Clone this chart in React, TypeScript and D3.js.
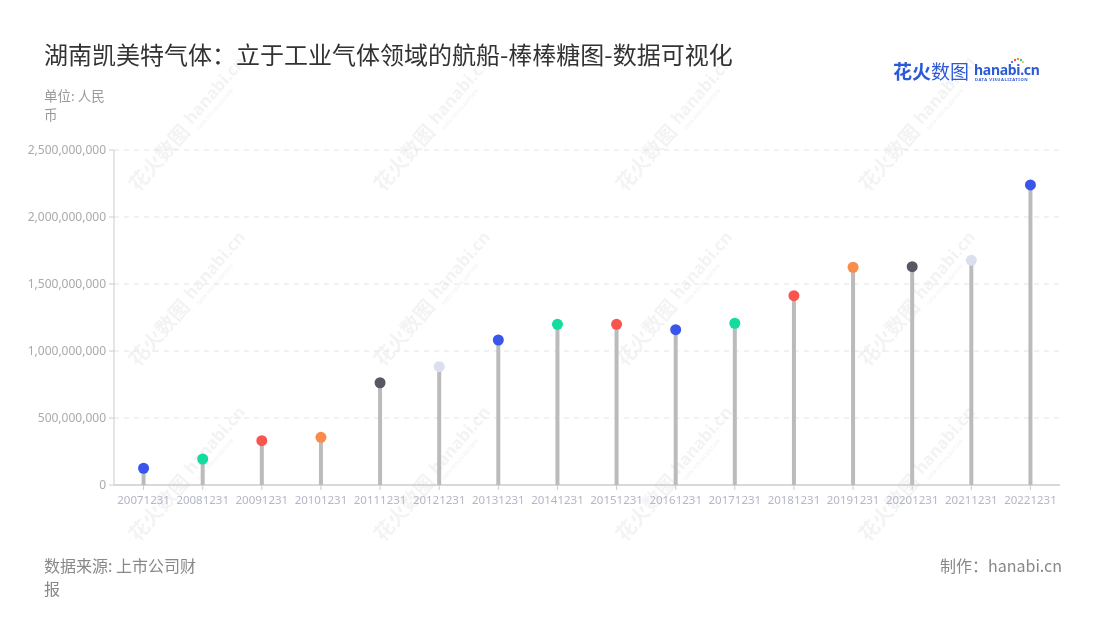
import React from "react";
import * as d3 from "d3";

const categories = ["20071231","20081231","20091231","20101231","20111231","20121231","20131231","20141231","20151231","20161231","20171231","20181231","20191231","20201231","20211231","20221231"];
const values = [125000000,194000000,331000000,356000000,763000000,883000000,1082000000,1199000000,1199000000,1159000000,1207000000,1413000000,1625000000,1629000000,1677000000,2239000000];
const dotColors = ["#3a55ea","#13dc9e","#f8554f","#fa8b4a","#585863","#dcdfee","#3a55ea","#13dc9e","#f8554f","#3a55ea","#13dc9e","#f8554f","#fa8b4a","#585863","#dcdfee","#3a55ea"];
const yTicks = [0,500000000,1000000000,1500000000,2000000000,2500000000];

const title = "湖南凯美特气体：立于工业气体领域的航船-棒棒糖图-数据可视化";
const unitLines = ["单位: 人民", "币"];
const sourceLines = ["数据来源: 上市公司财", "报"];
const credit = "制作：hanabi.cn";

const W = 1100, H = 620;
const M = { left: 114, right: 1060, top: 150, bottom: 485 };
const FONT = "'Noto Sans CJK SC','Noto Sans',sans-serif";

const wmX = [185, 430, 672, 915];
const wmY = [130, 305, 480];

export default function App() {
  const x = d3.scaleBand<string>().domain(categories).range([M.left, M.right]);
  const y = d3.scaleLinear().domain([0, 2500000000]).range([M.bottom, M.top]);
  const fmt = d3.format(",");

  return (
    <svg width={W} height={H} style={{ position: "absolute", left: 0, top: 0, background: "#fff" }} fontFamily={FONT}>
      {/* watermarks */}
      <g opacity={0.05} fill="#000">
        {wmY.map((wy) =>
          wmX.map((wx) => (
            <g key={`${wx}-${wy}`} transform={`translate(${wx},${wy}) rotate(-49)`}>
              <text x={-78} y={6} fontSize={20} fontWeight={700}>花火数图</text>
              <text x={8} y={2} fontSize={17} fontWeight={700} fontFamily="'Noto Sans',sans-serif">hanabi.cn</text>
              <text x={9} y={11} fontSize={5} fontWeight={700} fontFamily="'Noto Sans',sans-serif">DATA VISUALIZATION</text>
            </g>
          ))
        )}
      </g>

      {/* title */}
      <text x={44} y={64} fontSize={24} fill="#333">{title}</text>

      {/* logo */}
      <g>
        <text x={893} y={79} fontSize={19} fontWeight={700} fill="#2d5bd6">花火</text>
        <text x={931} y={79} fontSize={19} fill="#2d5bd6">数图</text>
        <text x={974} y={75} fontSize={14} fontWeight={700} fill="#2d5bd6" fontFamily="'Noto Sans',sans-serif" letterSpacing={-0.3}>hanabi.cn</text>
        <text x={975} y={81} fontSize={4.2} fontWeight={700} fill="#2d5bd6" fontFamily="'Noto Sans',sans-serif" letterSpacing={0.5}>DATA VISUALIZATION</text>
        <circle cx={1015} cy={60} r={1.2} fill="#f5554e" />
        <circle cx={1018} cy={59} r={1.2} fill="#fa8b4a" />
        <circle cx={1021} cy={60} r={1.2} fill="#13dc9e" />
        <circle cx={1012} cy={62} r={1.1} fill="#3a55ea" />
        <circle cx={1023} cy={62} r={1.1} fill="#f0c030" />
      </g>

      {/* unit */}
      {unitLines.map((t, i) => (
        <text key={t} x={44} y={101 + i * 19} fontSize={13.5} fill="#999">{t}</text>
      ))}

      {/* grid */}
      {yTicks.filter((t) => t > 0).map((t) => (
        <line key={t} x1={M.left} x2={M.right} y1={y(t)} y2={y(t)} stroke="#e3e3e3" strokeDasharray="5,5" />
      ))}

      {/* y axis */}
      <line x1={M.left} x2={M.left} y1={M.top} y2={M.bottom} stroke="#ccc" />
      {yTicks.map((t) => (
        <g key={t}>
          <line x1={M.left - 5} x2={M.left} y1={y(t)} y2={y(t)} stroke="#ccc" />
          <text x={M.left - 8} y={y(t)} dy="0.35em" textAnchor="end" fontSize={12} fill="#aaa" fontFamily="'Noto Sans',sans-serif">{fmt(t)}</text>
        </g>
      ))}

      {/* x axis */}
      <line x1={M.left} x2={M.right} y1={M.bottom} y2={M.bottom} stroke="#ccc" strokeWidth={1.5} />
      {categories.map((c) => {
        const cx = (x(c) ?? 0) + x.bandwidth() / 2;
        return (
          <g key={c}>
            <line x1={cx} x2={cx} y1={M.bottom} y2={M.bottom + 5} stroke="#ccc" />
            <text x={cx} y={M.bottom + 19} textAnchor="middle" fontSize={11.5} fill="#b3b6c6" fontFamily="'Noto Sans',sans-serif">{c}</text>
          </g>
        );
      })}

      {/* lollipops */}
      {categories.map((c, i) => {
        const cx = (x(c) ?? 0) + x.bandwidth() / 2;
        return (
          <g key={c}>
            <line x1={cx} x2={cx} y1={M.bottom} y2={y(values[i])} stroke="#bbb" strokeWidth={4} />
            <circle cx={cx} cy={y(values[i])} r={5.5} fill={dotColors[i]} />
          </g>
        );
      })}

      {/* footer */}
      {sourceLines.map((t, i) => (
        <text key={t} x={44} y={572 + i * 23} fontSize={16} fill="#888">{t}</text>
      ))}
      <text x={1062} y={572} textAnchor="end" fontSize={16} fill="#888">{credit}</text>
    </svg>
  );
}
